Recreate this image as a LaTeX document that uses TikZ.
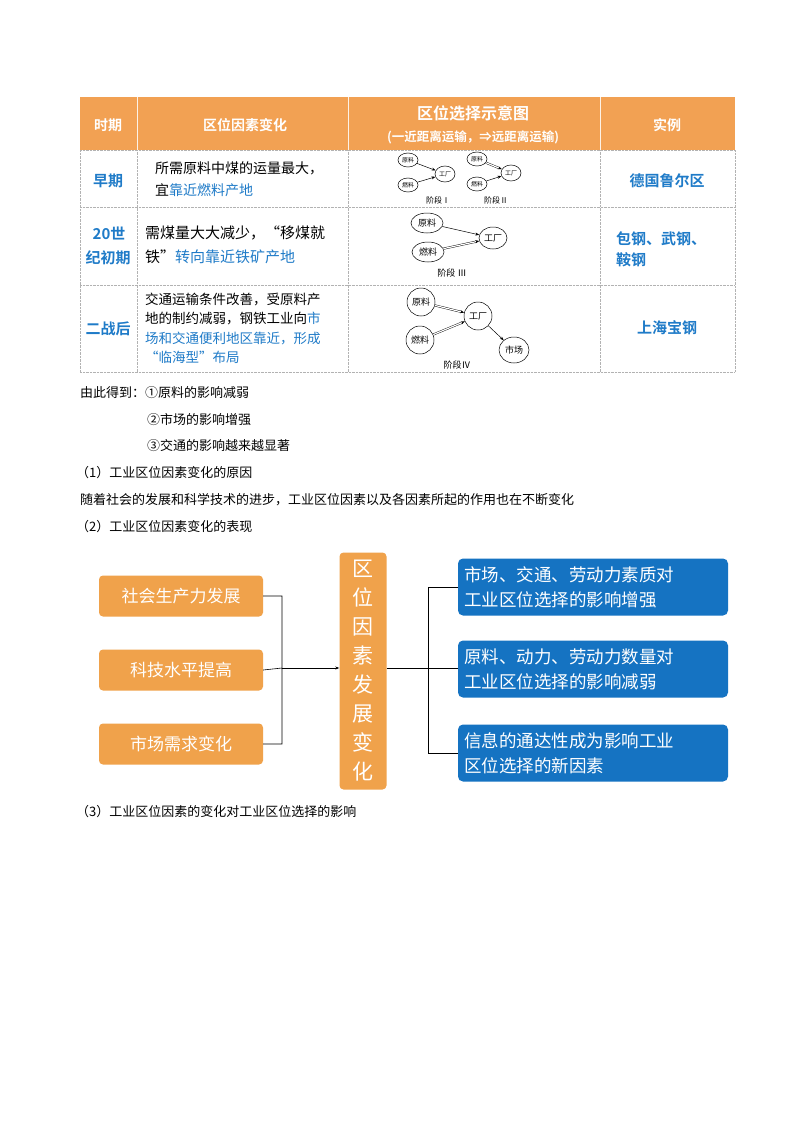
\documentclass[tikz,border=0pt]{standalone}
\usepackage{fontspec}
\setmainfont{Noto Sans CJK SC}
\newfontfamily\cjkb{Noto Sans CJK SC Bold}
\usetikzlibrary{arrows.meta}
\definecolor{hdr}{HTML}{F2A153}
\definecolor{tblue}{HTML}{1F7BC8}
\definecolor{obox}{HTML}{F0A24B}
\definecolor{bbox}{HTML}{1573C2}
\tikzset{
 txt/.style={anchor=west,inner sep=0,font=\fontsize{13}{15}\selectfont},
 cell/.style={inner sep=0,font=\fontsize{15}{17}\selectfont},
 hd/.style={inner sep=0,text=white,font=\cjkb\fontsize{14}{16}\selectfont},
 bl/.style={inner sep=0,text=tblue,font=\cjkb\fontsize{15}{17}\selectfont},
 el/.style={draw,ellipse,inner sep=0.5pt,line width=0.5pt},
 sl/.style={-{Stealth[length=4pt]},line width=0.5pt},
 dl/.style={double,double distance=1.2pt,line width=0.4pt,-{Stealth[length=4pt]}},
 lab/.style={inner sep=0,font=\fontsize{8}{9}\selectfont},
 ob/.style={fill=obox,rounded corners=4pt,text=white,minimum width=164pt,minimum height=41pt,font=\fontsize{17}{19}\selectfont},
 bb/.style={fill=bbox,rounded corners=5pt,text=white,minimum width=270pt,minimum height=57pt,align=left,text width=258pt,font=\fontsize{17.5}{25}\selectfont},
}
\usetikzlibrary{shapes.geometric}
\begin{document}
\begin{tikzpicture}[x=1pt,y=-1pt]
\useasboundingbox (0,0) rectangle (800,1132);
\fill[white] (0,0) rectangle (800,1132);
% table
\fill[hdr] (80,97) rectangle (735,150);
\draw[gray!60,densely dotted] (80,150)--(735,150) (80,207)--(735,207) (80,285)--(735,285) (80,372)--(735,372);
\draw[gray!60,densely dotted] (80,150)--(80,372) (137,97)--(137,372) (348,97)--(348,372) (600,97)--(600,372) (735,150)--(735,372);
\draw[white!85!hdr] (137,97)--(137,150) (348,97)--(348,150) (600,97)--(600,150);
\node[hd] (h1) at (108,125) {时期};
\node[hd] (h2) at (245,125) {区位因素变化};
\node[hd,font=\cjkb\fontsize{16}{18}\selectfont] (h3) at (473,113) {区位选择示意图};
\node[hd,font=\cjkb\fontsize{12.5}{14}\selectfont] (h3b) at (473,137) {(一近距离运输，⇒远距离运输)};
\node[hd] (h4) at (667,125) {实例};
% row1
\node[bl] (p1) at (108,181) {早期};
\node[txt,font=\fontsize{14}{16}\selectfont] (t11) at (155,168) {所需原料中煤的运量最大，};
\node[txt,font=\fontsize{14}{16}\selectfont] (t12) at (155,190) {宜\textcolor{tblue}{靠近燃料产地}};
\node[bl] (e1) at (667,181) {德国鲁尔区};
% row2
\node[bl] (p2a) at (109,233) {20世};
\node[bl] (p2b) at (108,258) {纪初期};
\node[cell,anchor=west] (t21) at (145,233) {需煤量大大减少，“移煤就};
\node[cell,anchor=west] (t22) at (145,257) {铁”\textcolor{tblue}{转向靠近铁矿产地}};
\node[bl,anchor=west] (e2a) at (616,239) {包钢、武钢、};
\node[bl,anchor=west] (e2b) at (616,260) {鞍钢};
% row3
\node[bl] (p3) at (108,329) {二战后};
\node[txt,font=\fontsize{13.5}{15}\selectfont] (t31) at (145,299) {交通运输条件改善，受原料产};
\node[txt,font=\fontsize{13.5}{15}\selectfont] (t32) at (145,318) {地的制约减弱，钢铁工业向\textcolor{tblue}{市}};
\node[txt,font=\fontsize{13.5}{15}\selectfont,text=tblue] (t33) at (145,338) {场和交通便利地区靠近，形成};
\node[txt,font=\fontsize{13.5}{15}\selectfont,text=tblue] (t34) at (145,357) {“临海型”布局};
\node[bl] (e3) at (667,328) {上海宝钢};
% stage I, II
\begin{scope}[every node/.append style={font=\fontsize{6}{7}\selectfont}]
\node[el,minimum width=20pt,minimum height=14pt] (a1) at (408,160) {原料};
\node[el,minimum width=20pt,minimum height=14pt] (b1) at (408,185) {燃料};
\node[el,minimum width=20pt,minimum height=16pt] (c1) at (445,174) {工厂};
\node[el,minimum width=20pt,minimum height=14pt] (a2) at (477,159) {原料};
\node[el,minimum width=20pt,minimum height=14pt] (b2) at (477,184) {燃料};
\node[el,minimum width=20pt,minimum height=16pt] (c2) at (511,173) {工厂};
\end{scope}
\draw[sl] (a1)--(c1); \draw[sl] (b1)--(c1);
\draw[dl] (a2)--(c2); \draw[sl] (b2)--(c2);
\node[lab] (l1) at (438,200) {阶段Ⅰ};
\node[lab] (l2) at (496,200) {阶段Ⅱ};
% stage III
\begin{scope}[every node/.append style={font=\fontsize{9}{10}\selectfont}]
\node[el,minimum width=32pt,minimum height=20pt] (a3) at (427,223) {原料};
\node[el,minimum width=32pt,minimum height=20pt] (b3) at (428,252) {燃料};
\node[el,minimum width=28pt,minimum height=22pt] (c3) at (493,238) {工厂};
\node[el,minimum width=28pt,minimum height=28pt] (a4) at (421,302) {原料};
\node[el,minimum width=28pt,minimum height=28pt] (b4) at (420,340) {燃料};
\node[el,minimum width=28pt,minimum height=28pt] (c4) at (478,316) {工厂};
\node[el,minimum width=30pt,minimum height=26pt] (m4) at (514,350) {市场};
\end{scope}
\draw[sl] (a3)--(c3); \draw[dl] (b3)--(c3);
\draw[dl] (a4)--(c4); \draw[dl] (b4)--(c4); \draw[sl] (c4)--(m4);
\node[lab,font=\fontsize{9}{10}\selectfont] (l3) at (452,273) {阶段 Ⅲ};
\node[lab,font=\fontsize{9}{10}\selectfont] (l4) at (457,365) {阶段Ⅳ};
% body text
\node[txt] (s1) at (80,393) {由此得到：①原料的影响减弱};
\node[txt] (s2) at (147,420) {②市场的影响增强};
\node[txt] (s3) at (147,446) {③交通的影响越来越显著};
\node[txt] (s4) at (76,473) {（1）工业区位因素变化的原因};
\node[txt] (s5) at (80,500) {随着社会的发展和科学技术的进步，工业区位因素以及各因素所起的作用也在不断变化};
\node[txt] (s6) at (76,527) {（2）工业区位因素变化的表现};
\node[txt] (s7) at (76,812) {（3）工业区位因素的变化对工业区位选择的影响};
% flowchart
\node[ob] (o1) at (181,596) {社会生产力发展};
\node[ob] (o2) at (181,670) {科技水平提高};
\node[ob] (o3) at (181,744) {市场需求变化};
\node[fill=obox,rounded corners=4pt,minimum width=47pt,minimum height=237pt,text=white,align=center,font=\fontsize{21}{29}\selectfont] (c) at (363,671) {区\\位\\因\\素\\发\\展\\变\\化};
\node[bb] (r1) at (593,587) {市场、交通、劳动力素质对\\工业区位选择的影响增强};
\node[bb] (r2) at (593,669) {原料、动力、劳动力数量对\\工业区位选择的影响减弱};
\node[bb] (r3) at (593,753) {信息的通达性成为影响工业\\区位选择的新因素};
\coordinate (bk) at (282,668);
\draw[line width=0.6pt] (o1.east)-|(bk) (o3.east)-|(bk) (o2.east)--(bk);
\draw[line width=0.6pt,-{Stealth[length=4pt]}] (bk)--(c.west|-bk);
\coordinate (rk) at (428,668);
\draw[line width=0.6pt] (c.east|-rk)--(r2.west|-rk);
\draw[line width=0.6pt] (r1.west)-|(rk) (r3.west)-|(rk);
\end{tikzpicture}
\end{document}
